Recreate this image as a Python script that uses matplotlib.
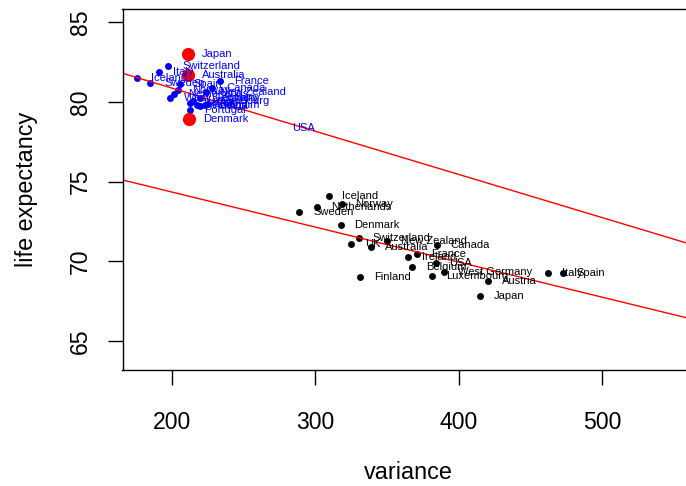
import matplotlib as mpl
mpl.use('Agg')
import matplotlib.pyplot as plt

plt.rcParams['font.family'] = ['Liberation Sans', 'DejaVu Sans']

# later period (blue), variance vs life expectancy
blue_countries = ['Japan', 'Switzerland', 'Italy', 'Iceland', 'Australia', 'Sweden',
                  'Spain', 'France', 'Canada', 'Norway', 'Netherlands', 'New Zealand',
                  'West Germany', 'Germany', 'Luxembourg', 'Ireland', 'Finland', 'Austria',
                  'Belgium', 'UK', 'Portugal', 'Denmark', 'USA']
blue_var = [211.4, 197.4, 190.9, 175.7, 211.4, 185.0,
            205.6, 233.7, 228.2, 204.4, 201.5, 224.0,
            198.8, 219.9, 215.0, 212.6, 217.5, 219.5,
            223.0, 225.3, 212.9, 212.1, 274.3]
blue_life = [83.00, 82.24, 81.88, 81.51, 81.68, 81.20,
             81.15, 81.30, 80.88, 80.72, 80.50, 80.60,
             80.24, 80.25, 80.05, 79.93, 79.80, 79.73,
             79.80, 79.90, 79.48, 78.90, 78.35]
highlight = ['Japan', 'Australia', 'Denmark']
no_marker = ['USA']   # label only, no dot in the original

# earlier period (black)
black_countries = ['Iceland', 'Norway', 'Netherlands', 'Sweden', 'Denmark', 'Switzerland',
                   'UK', 'Australia', 'New Zealand', 'Canada', 'Ireland', 'France',
                   'Belgium', 'USA', 'Finland', 'Luxembourg', 'West Germany', 'Austria',
                   'Japan', 'Italy', 'Spain']
black_var = [309.3, 318.4, 301.4, 288.8, 317.7, 330.5,
             325.1, 338.7, 350.3, 384.9, 364.9, 371.0,
             367.7, 384.0, 331.4, 381.6, 390.0, 420.3,
             414.7, 462.7, 472.6]
black_life = [74.11, 73.59, 73.38, 73.07, 72.24, 71.46,
              71.08, 70.91, 71.27, 71.02, 70.23, 70.42,
              69.64, 69.87, 69.01, 69.07, 69.33, 68.78,
              67.83, 69.24, 69.27]

# fitted lines (intercept, slope)
line_intercepts = [86.29, 78.74]
line_slopes = [-0.0271, -0.0220]

fig = plt.figure(figsize=(6.86, 4.86), dpi=100)
ax = fig.add_axes([122.5/686, (486-370)/486, (695-122.5)/686, 361/486])

bx = [x for c, x in zip(blue_countries, blue_var) if c not in no_marker]
by = [y for c, y in zip(blue_countries, blue_life) if c not in no_marker]
ax.plot(bx, by, 'o', color='blue', markersize=5, markeredgewidth=0)
for c, x, y in zip(blue_countries, blue_var, blue_life):
    if c in highlight:
        ax.plot(x, y, 'o', color='red', markersize=9.5, markeredgewidth=0)
for c, x, y in zip(blue_countries, blue_var, blue_life):
    ax.annotate(c, (x, y), xytext=(10, 0), textcoords='offset points',
                ha='left', va='center', fontsize=8, color='blue')

ax.plot(black_var, black_life, 'o', color='black', markersize=5, markeredgewidth=0)
for c, x, y in zip(black_countries, black_var, black_life):
    ax.annotate(c, (x, y), xytext=(10, 0), textcoords='offset points',
                ha='left', va='center', fontsize=8, color='black')

for a, b in zip(line_intercepts, line_slopes):
    ax.axline((0, a), slope=b, color='red', linewidth=1.0)

ax.set_xlim(165.5, 565)
ax.set_ylim(63.16, 85.84)
ax.set_xticks([200, 300, 400, 500])
ax.set_yticks([65, 70, 75, 80, 85])
ax.tick_params(direction='out', length=10.8, width=1.0, labelsize=16.6)
ax.tick_params(axis='x', pad=19)
ax.tick_params(axis='y', pad=11.5)
plt.setp(ax.get_yticklabels(), rotation=90, va='center')
for s in ax.spines.values():
    s.set_linewidth(1.0)

ax.set_xlabel('variance', fontsize=16.8, labelpad=19)
ax.set_ylabel('life expectancy', fontsize=16.8, labelpad=22)

plt.savefig('out.png', dpi=100)
